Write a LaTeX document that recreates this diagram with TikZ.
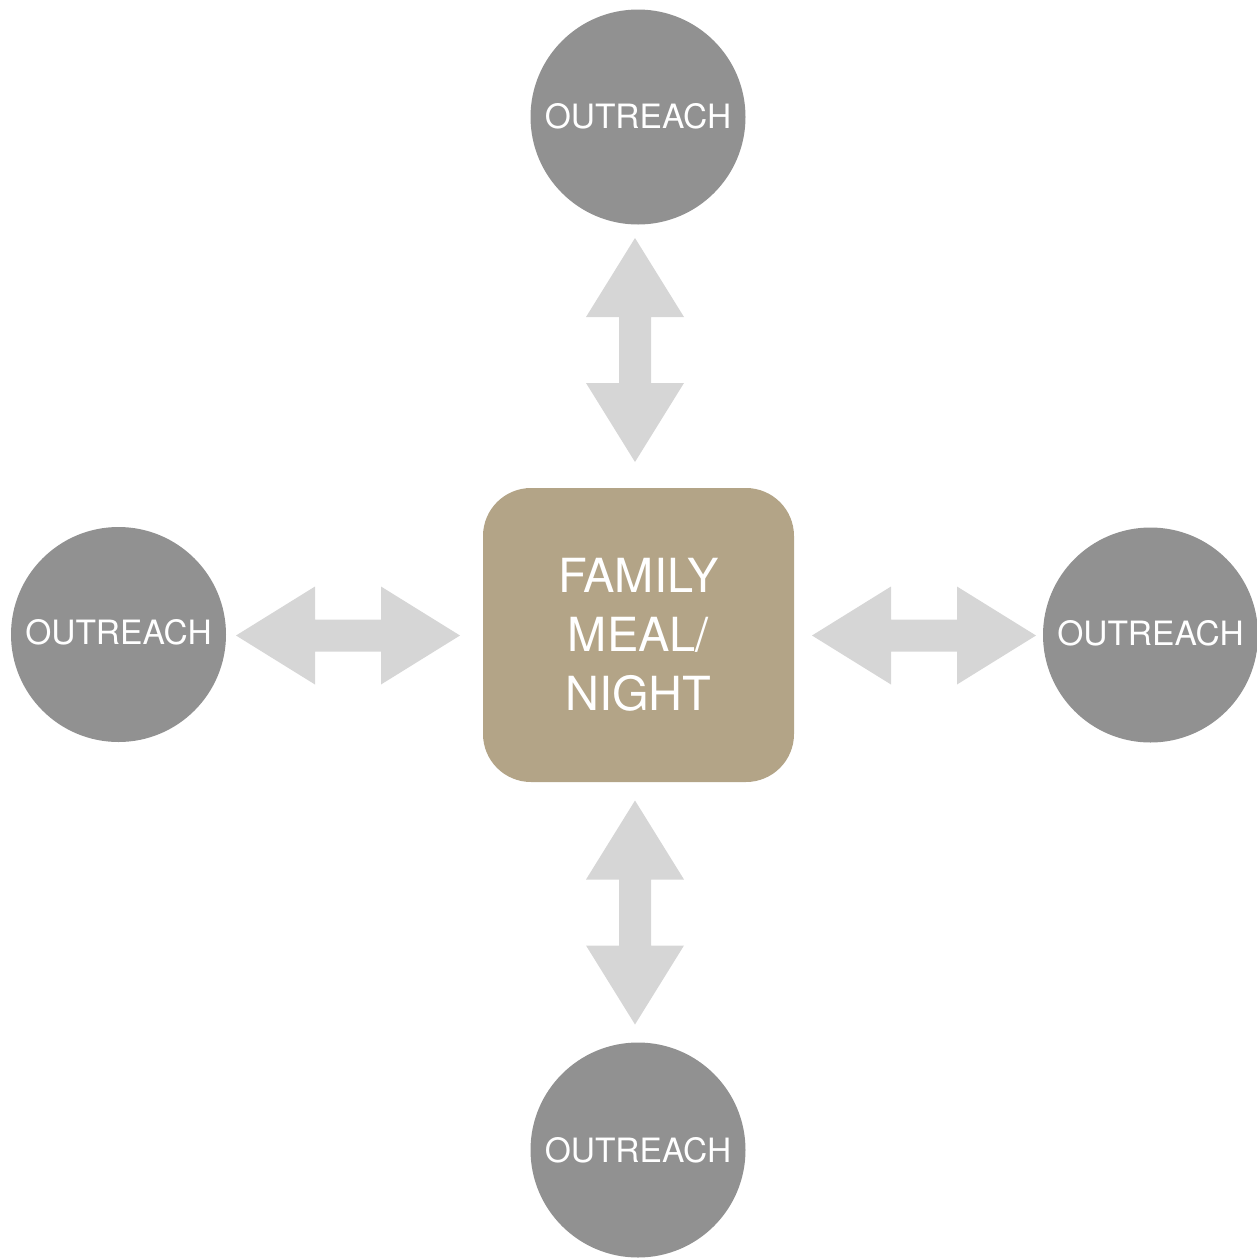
\documentclass[tikz,border=0pt]{standalone}
\usepackage{fontspec}
\setmainfont{TeX Gyre Heros}
\definecolor{circgray}{HTML}{919191}
\definecolor{arrgray}{HTML}{D6D6D6}
\definecolor{tan}{HTML}{B3A487}
\tikzset{
  outreach/.style={circle, fill=circgray, minimum size=215pt, inner sep=0pt, text=white, font=\fontsize{33.5}{36}\selectfont},
  hub/.style={rectangle, rounded corners=48pt, fill=tan, minimum width=311pt, minimum height=294pt, inner sep=0pt, text=white, align=center, font=\fontsize{47}{59}\selectfont},
  blockarrow/.style={fill=arrgray},
}
\newcommand\dblblock[2]{%
  \fill[blockarrow, shift={#1}, rotate=#2] (-112,0) -- (-33,49) -- (-33,16) -- (33,16) -- (33,49) -- (112,0) -- (33,-49) -- (33,-16) -- (-33,-16) -- (-33,-49) -- cycle;}
\begin{document}
\begin{tikzpicture}[x=1pt,y=-1pt]
\useasboundingbox (0,0) rectangle (1257,1259);
\node[hub] (hub) at (638.5,635) {FAMILY\\MEAL/\\NIGHT};
\node[outreach] (top) at (638,117) {\raisebox{2pt}{OUTREACH}};
\node[outreach] (left) at (118.5,634.5) {\raisebox{5pt}{OUTREACH}};
\node[outreach] (right) at (1150.5,635) {\raisebox{5pt}{OUTREACH}};
\node[outreach] (bottom) at (638,1150) {OUTREACH};
\coordinate (atop) at (635,350);
\coordinate (abot) at (635,912.5);
\coordinate (aleft) at (348,635.5);
\coordinate (aright) at (924,635.5);
\dblblock{(atop)}{90}
\dblblock{(abot)}{90}
\dblblock{(aleft)}{0}
\dblblock{(aright)}{0}
\end{tikzpicture}
\end{document}
